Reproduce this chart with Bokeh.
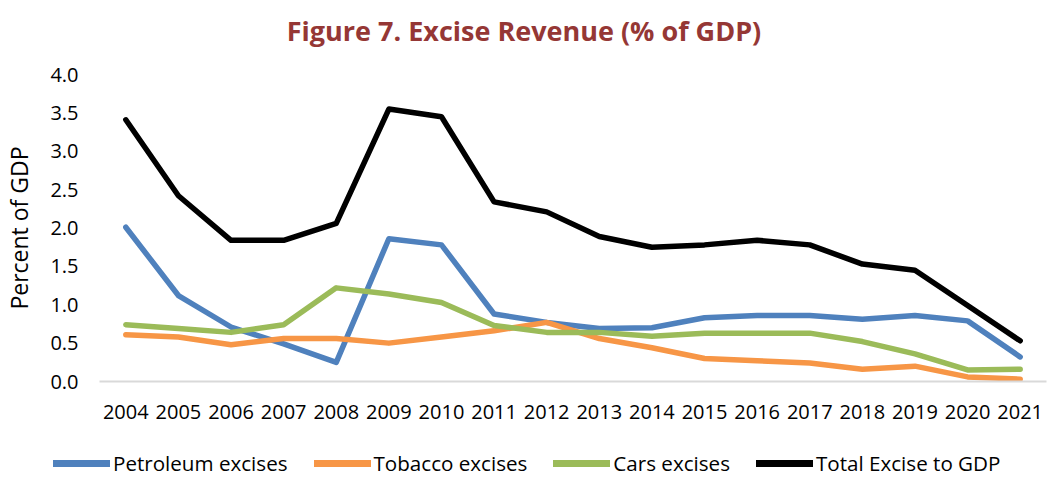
from bokeh.plotting import figure
from bokeh.layouts import column
from bokeh.models import Legend, LegendItem, FixedTicker, Range1d, PrintfTickFormatter, Label
from bokeh.embed import file_html
from bokeh.resources import INLINE

years = [str(y) for y in range(2004, 2022)]
petroleum = [2.01, 1.12, 0.71, 0.49, 0.25, 1.86, 1.78, 0.88, 0.77, 0.69, 0.70, 0.83, 0.86, 0.86, 0.81, 0.86, 0.79, 0.32]
tobacco = [0.61, 0.58, 0.48, 0.56, 0.56, 0.50, 0.58, 0.66, 0.77, 0.56, 0.44, 0.30, 0.27, 0.24, 0.16, 0.20, 0.06, 0.03]
cars = [0.74, 0.69, 0.64, 0.74, 1.22, 1.14, 1.03, 0.73, 0.64, 0.64, 0.59, 0.63, 0.63, 0.63, 0.52, 0.36, 0.15, 0.16]
total = [3.41, 2.42, 1.84, 1.84, 2.06, 3.55, 3.45, 2.34, 2.21, 1.89, 1.75, 1.78, 1.84, 1.78, 1.53, 1.45, 0.99, 0.53]
series_names = ["Petroleum excises", "Tobacco excises", "Cars excises", "Total Excise to GDP"]
y_ticks = [0.0, 0.5, 1.0, 1.5, 2.0, 2.5, 3.0, 3.5, 4.0]
title_text = "Figure 7. Excise Revenue (% of GDP)"

FONT = "Open Sans"
colors = ["#4f81bd", "#f79646", "#9bbb59", "#000000"]
data = [petroleum, tobacco, cars, total]
W = 1047

# ---- title strip ----
tt = figure(width=W, height=50, output_backend="svg", toolbar_location=None,
            x_range=Range1d(0, 1), y_range=Range1d(0, 1),
            min_border=0, x_axis_type=None, y_axis_type=None)
tt.grid.grid_line_color = None
tt.outline_line_color = None
tt.add_layout(Label(x=W / 2, y=20, x_units="screen", y_units="screen", text=title_text,
                    text_align="center", text_baseline="middle", text_font=FONT,
                    text_font_size="27px", text_font_style="bold", text_color="#953735"))

# ---- main chart ----
p = figure(x_range=years, y_range=Range1d(0, 4.0), width=W, height=390,
           output_backend="svg", toolbar_location=None,
           min_border_left=98, min_border_right=1, min_border_top=24, min_border_bottom=59)

for vals, c in zip(data, colors):
    p.line(years, vals, line_color=c, line_width=5.5, line_join="round", line_cap="round")

p.xgrid.grid_line_color = None
p.ygrid.grid_line_color = None
p.outline_line_color = None

p.yaxis.ticker = FixedTicker(ticks=y_ticks)
p.yaxis.formatter = PrintfTickFormatter(format="%.1f")
p.yaxis.axis_line_color = None
p.yaxis.major_tick_line_color = None
p.yaxis.minor_tick_line_color = None
p.yaxis.major_tick_out = 0
p.yaxis.major_tick_in = 0
p.yaxis.minor_tick_out = 0
p.yaxis.major_label_text_font = FONT
p.yaxis.major_label_text_font_size = "20px"
p.yaxis.major_label_text_color = "#000000"
p.yaxis.major_label_standoff = 21
p.yaxis.axis_label = "Percent of GDP"
p.yaxis.axis_label_text_font = FONT
p.yaxis.axis_label_text_font_size = "23px"
p.yaxis.axis_label_text_font_style = "normal"
p.yaxis.axis_label_text_color = "#000000"
p.yaxis.axis_label_standoff = 12

p.xaxis.axis_line_color = "#d9d9d9"
p.xaxis.axis_line_width = 2
p.xaxis.major_tick_line_color = None
p.xaxis.minor_tick_line_color = None
p.xaxis.major_tick_out = 0
p.xaxis.major_tick_in = 0
p.xaxis.major_label_text_font = FONT
p.xaxis.major_label_text_font_size = "20px"
p.xaxis.major_label_text_color = "#000000"
p.xaxis.major_label_standoff = 23

# ---- legend strip ----
lg = figure(width=W, height=37, output_backend="svg", toolbar_location=None,
            x_range=years, y_range=Range1d(10, 11),
            min_border=0, x_axis_type=None, y_axis_type=None)
lg.grid.grid_line_color = None
lg.outline_line_color = None
items = []
for n, vals, c in zip(series_names, data, colors):
    r = lg.line(years, vals, line_color=c, line_width=7, line_cap="round")
    items.append(LegendItem(label=n, renderers=[r]))
legend = Legend(items=items, orientation="horizontal", location=(53, 0),
                label_text_font=FONT, label_text_font_size="20.6px", label_text_color="#000000",
                glyph_width=57, glyph_height=14, spacing=26, label_standoff=3,
                border_line_color=None, background_fill_alpha=0, margin=0, padding=0)
lg.add_layout(legend, "center")

layout = column(column(tt), p, column(lg), spacing=0)
open("out.html", "w").write(file_html(layout, INLINE))
